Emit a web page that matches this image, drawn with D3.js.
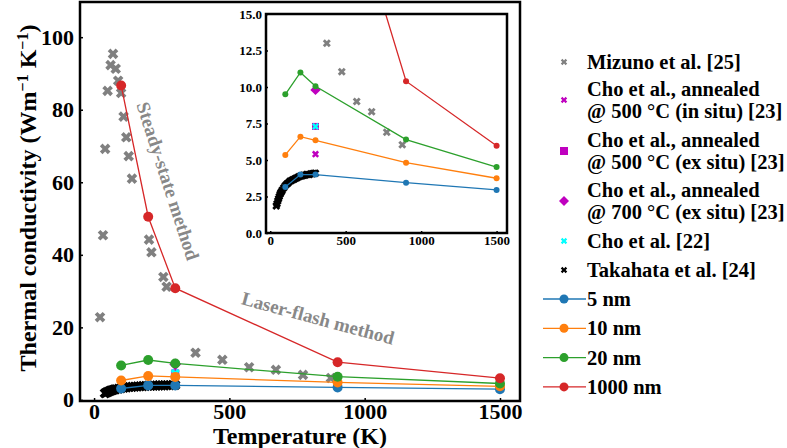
<!DOCTYPE html>
<html lang="en">
<head>
<meta charset="utf-8">
<title>Thermal conductivity vs temperature</title>
<script src="https://d3js.org/d3.v7.min.js"></script>
<style>
    body { margin: 0; background: #fff; }
    svg text { font-family: "Liberation Serif", "Times New Roman", serif !important; font-weight: bold; }
    .line { fill: none; stroke-width: 1.3px; }
</style>
</head>
<body>
<svg width="787" height="448" font-family="Liberation Serif" font-weight="bold"></svg>
<script>
    // model curves (temperature K -> W/m/K)
    var modelT = [100, 200, 300, 900, 1500];
    var k5nm = [3.15, 4.0, 4.0, 3.45, 2.95];
    var k10nm = [5.35, 6.6, 6.35, 4.82, 3.75];
    var k20nm = [9.5, 11.0, 10.05, 6.4, 4.52];
    var k1000nm = [86.7, 50.5, 30.8, 10.4, 5.98];

    // experiments
    var mizunoT = [22, 33, 41, 50, 61, 70, 80, 89, 100, 109, 119, 128, 140, 203, 212, 256, 268, 375, 474, 573, 672, 772, 875];
    var mizunoK = [22.8, 45.4, 69.2, 85.2, 92.3, 95.4, 91.3, 88.0, 84.6, 78.1, 72.4, 67.2, 61.0, 44.2, 40.7, 33.9, 31.2, 13.0, 11.05, 9.0, 8.3, 6.9, 6.05];
    var takahataT = [40, 45, 50, 55, 60, 65, 70, 75, 80, 90, 100, 110, 120, 130, 140, 150, 160, 170, 180, 190, 200, 210, 220, 230, 240, 250, 260, 270, 280, 290, 300];
    var takahataK = [1.85, 2.0, 2.2, 2.35, 2.5, 2.65, 2.75, 2.85, 2.95, 3.1, 3.25, 3.35, 3.45, 3.55, 3.6, 3.65, 3.7, 3.75, 3.8, 3.85, 3.9, 3.9, 3.95, 3.95, 4.0, 4.0, 4.0, 4.05, 4.05, 4.1, 4.1];
    var choInSitu = [[300, 5.4]];
    var choExSitu500 = [[300, 7.3]];
    var choExSitu700 = [[300, 9.8]];
    var cho22 = [[300, 7.3]];

    var mainXTicks = [0, 500, 1000, 1500];
    var mainYTicks = [0, 20, 40, 60, 80, 100];
    var insetXTicks = [0, 500, 1000, 1500];
    var insetYTicks = [0, 2.5, 5, 7.5, 10, 12.5, 15];

    var models = [
        {name: "5 nm", color: "#1f77b4", k: k5nm},
        {name: "10 nm", color: "#ff7f0e", k: k10nm},
        {name: "20 nm", color: "#2ca02c", k: k20nm},
        {name: "1000 nm", color: "#d62728", k: k1000nm}
    ];

    var SERIF = "'Liberation Serif', 'Times New Roman', serif";

    function zip(a, b) { return a.map(function(v, i) { return [v, b[i]]; }); }

    var svg = d3.select("svg");
    var xSym = d3.symbol().type(d3.symbolCross);

    function drawPanel(g, x, y, opt) {
        var w = x.range()[1] - x.range()[0], h = y.range()[0] - y.range()[1];
        var clipId = "clip" + opt.id;
        svg.append("defs").append("clipPath").attr("id", clipId)
            .append("rect").attr("x", x.range()[0]).attr("y", y.range()[1]).attr("width", w).attr("height", h);
        if (opt.bg) {
            g.append("rect").attr("x", x.range()[0]).attr("y", y.range()[1])
                .attr("width", w).attr("height", h).attr("fill", "#fff");
        }
        var plot = g.append("g").attr("clip-path", "url(#" + clipId + ")");

        function crosses(data, color, size) {
            plot.selectAll(null).data(data).enter().append("path")
                .attr("d", xSym.size(size)())
                .attr("transform", function(d) { return "translate(" + x(d[0]) + "," + y(d[1]) + ") rotate(45)"; })
                .attr("fill", color);
        }
        crosses(zip(mizunoT, mizunoK), "#808080", opt.xs);
        crosses(choInSitu, "#bf00bf", opt.xs * 0.8);
        plot.selectAll(null).data(choExSitu500).enter().append("rect")
            .attr("x", function(d) { return x(d[0]) - opt.sq / 2; })
            .attr("y", function(d) { return y(d[1]) - opt.sq / 2; })
            .attr("width", opt.sq).attr("height", opt.sq).attr("fill", "#bf00bf");
        plot.selectAll(null).data(choExSitu700).enter().append("path")
            .attr("d", d3.symbol().type(d3.symbolSquare).size(opt.sq * opt.sq * 1.1)())
            .attr("transform", function(d) { return "translate(" + x(d[0]) + "," + y(d[1]) + ") rotate(45)"; })
            .attr("fill", "#bf00bf");
        crosses(cho22, "#00ffff", opt.xs * 0.8);
        crosses(zip(takahataT, takahataK), "#000", opt.xs);

        var line = d3.line().x(function(d) { return x(d[0]); }).y(function(d) { return y(d[1]); });
        models.forEach(function(m) {
            var pts = zip(modelT, m.k);
            plot.append("path").attr("class", "line").attr("d", line(pts)).attr("stroke", m.color);
            plot.selectAll(null).data(pts).enter().append("circle")
                .attr("cx", function(d) { return x(d[0]); })
                .attr("cy", function(d) { return y(d[1]); })
                .attr("r", opt.r).attr("fill", m.color);
        });

        // inward ticks, as in the original figure
        var ax = g.append("g").attr("transform", "translate(0," + y.range()[0] + ")")
            .call(d3.axisBottom(x).tickValues(opt.xt).tickSize(-opt.ts).tickPadding(opt.xp).tickFormat(d3.format("d")));
        var ay = g.append("g").attr("transform", "translate(" + x.range()[0] + ",0)")
            .call(d3.axisLeft(y).tickValues(opt.yt).tickSize(-opt.ts).tickPadding(opt.yp).tickFormat(opt.yf));
        [ax, ay].forEach(function(a) {
            a.attr("font-family", SERIF).attr("font-size", opt.fs).attr("font-weight", "bold");
            a.select(".domain").remove();
            a.selectAll("text").attr("fill", "#000");
            a.selectAll("line").attr("stroke", "#000").attr("stroke-width", 1.5);
        });
        g.append("rect").attr("x", x.range()[0]).attr("y", y.range()[1])
            .attr("width", w).attr("height", h)
            .attr("fill", "none").attr("stroke", "#000").attr("stroke-width", 2.5);
    }

    // main panel
    var x = d3.scaleLinear().domain([-52, 1574]).range([80, 520]);
    var y = d3.scaleLinear().domain([-0.3, 109.7]).range([401, 2]);
    var main = svg.append("g");
    drawPanel(main, x, y, {id: "main", xs: 70, sq: 8, r: 5, ts: 3, xp: 2, yp: 6, fs: 22,
        xt: mainXTicks, yt: mainYTicks, yf: d3.format("d")});

    function label(g, txt, size, fill) {
        return g.append("text").attr("font-family", SERIF).attr("font-weight", "bold")
            .attr("font-size", size).attr("fill", fill || "#000").text(txt);
    }

    label(main, "Steady-state method", 19, "#888")
        .attr("transform", "translate(168,181) rotate(72)")
        .attr("text-anchor", "middle").attr("dy", "0.35em");
    label(main, "Laser-flash method", 19, "#888")
        .attr("transform", "translate(318,318) rotate(15)")
        .attr("text-anchor", "middle").attr("dy", "0.35em");

    label(main, "Temperature (K)", 24).attr("x", 300).attr("y", 444).attr("text-anchor", "middle");
    var yl = label(main, "", 24).attr("transform", "translate(36,198) rotate(-90)")
        .attr("text-anchor", "middle");
    yl.append("tspan").text("Thermal conductivity (Wm");
    yl.append("tspan").attr("baseline-shift", "super").attr("font-size", 16).text("\u22121");
    yl.append("tspan").text(" K");
    yl.append("tspan").attr("baseline-shift", "super").attr("font-size", 16).text("\u22121");
    yl.append("tspan").text(")");

    // inset panel
    var xi = d3.scaleLinear().domain([-28, 1569]).range([266, 507]);
    var yi = d3.scaleLinear().domain([0, 15]).range([233, 14]);
    var inset = svg.append("g");
    drawPanel(inset, xi, yi, {id: "inset", xs: 40, sq: 7, r: 3, ts: 2, xp: 3, yp: 4, fs: 13,
        xt: insetXTicks, yt: insetYTicks, yf: d3.format(".1f"), bg: true});

    // legend
    var legendRows = [
        {lines: ["Mizuno et al. [25]"], y: 62, kind: "x", color: "#808080"},
        {lines: ["Cho et al., annealed", "@ 500 \u00b0C (in situ) [23]"], y: 100, kind: "x", color: "#bf00bf"},
        {lines: ["Cho et al., annealed", "@ 500 \u00b0C (ex situ) [23]"], y: 151, kind: "sq", color: "#bf00bf"},
        {lines: ["Cho et al., annealed", "@ 700 \u00b0C (ex situ) [23]"], y: 201, kind: "dia", color: "#bf00bf"},
        {lines: ["Cho et al. [22]"], y: 241, kind: "x", color: "#00ffff"},
        {lines: ["Takahata et al. [24]"], y: 270, kind: "x", color: "#000"}
    ].concat(models.map(function(m, i) {
        return {lines: [m.name], y: 299 + i * 29.3, kind: "line", color: m.color};
    }));

    var leg = svg.append("g").selectAll("g").data(legendRows).enter().append("g")
        .attr("transform", function(d) { return "translate(0," + d.y + ")"; });
    leg.each(function(d) {
        var s = d3.select(this);
        if (d.kind === "x") {
            s.append("path").attr("d", xSym.size(26)()).attr("transform", "translate(564,0) rotate(45)").attr("fill", d.color);
        } else if (d.kind === "sq") {
            s.append("rect").attr("x", 560).attr("y", -4).attr("width", 8).attr("height", 8).attr("fill", d.color);
        } else if (d.kind === "dia") {
            s.append("path").attr("d", d3.symbol().type(d3.symbolSquare).size(50)()).attr("transform", "translate(564,0) rotate(45)").attr("fill", d.color);
        } else {
            s.append("line").attr("x1", 543).attr("x2", 586).attr("stroke", d.color).attr("stroke-width", 1.3);
            s.append("circle").attr("cx", 564).attr("r", 4.5).attr("fill", d.color);
        }
        var n = d.lines.length;
        s.selectAll("text").data(d.lines).enter().append("text")
            .attr("font-family", SERIF).attr("font-weight", "bold").attr("font-size", 20.5)
            .attr("x", 587).attr("y", function(t, i) { return (i - (n - 1) / 2) * 22.5; })
            .attr("dy", "0.35em").text(function(t) { return t; });
    });
</script>
</body>
</html>
